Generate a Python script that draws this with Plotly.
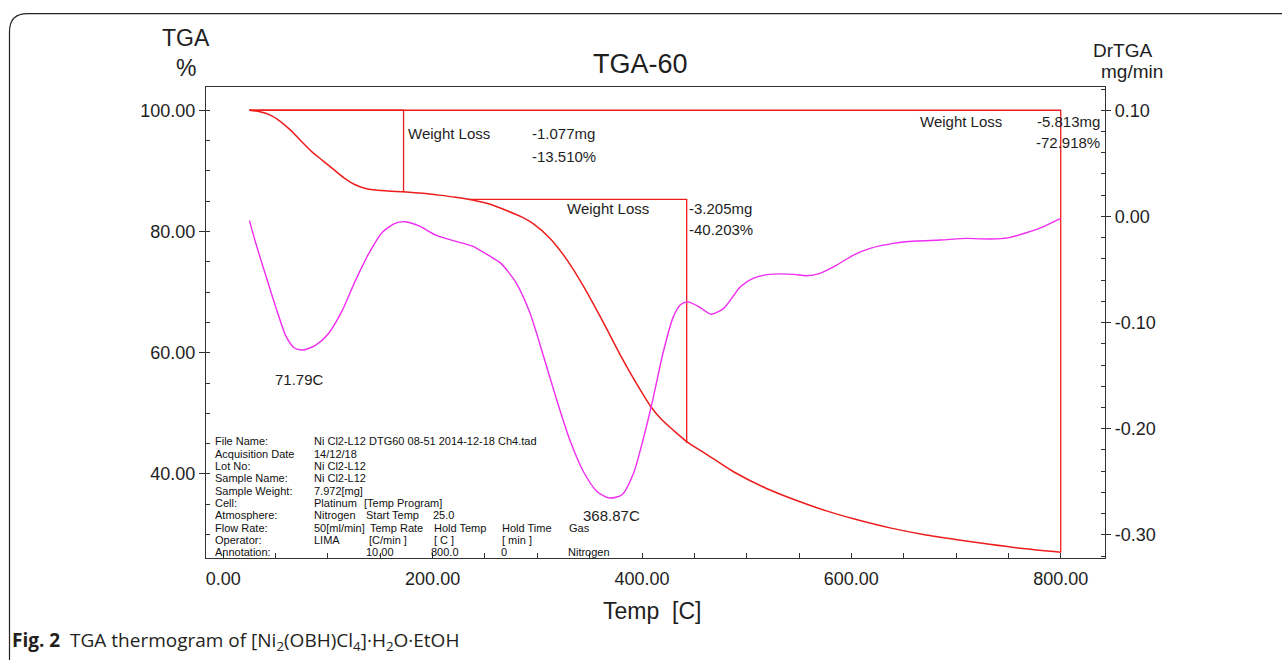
import plotly.graph_objects as go

# ---------------- data ----------------
tga_T = [25, 35, 45, 55, 65, 75, 85, 95, 105, 115, 125, 135, 145, 160, 172, 190, 206, 222,
         238, 255, 270, 285, 296, 312, 328, 344, 360, 370, 380, 390, 400, 408, 418, 430,
         443, 462, 487, 519, 551, 576, 602, 637, 669, 701, 732, 764, 800]
tga_W = [100.0, 99.75, 99.2, 98.1, 96.6, 94.8, 93.1, 91.7, 90.3, 88.9, 87.8, 87.15, 86.85,
         86.65, 86.55, 86.3, 86.0, 85.65, 85.2, 84.5, 83.5, 82.4, 81.3, 78.9, 75.4, 71.0,
         66.0, 62.7, 59.4, 56.3, 53.4, 51.2, 49.1, 47.2, 45.3, 43.2, 40.4, 37.6, 35.4,
         33.9, 32.6, 31.1, 30.0, 29.15, 28.4, 27.7, 27.08]

dtg_T = [25, 31, 41, 50, 60, 68, 76, 88, 100, 113, 126, 139, 152, 164, 174, 187, 203, 222,
         238, 254, 265, 280, 293, 306, 318.5, 331, 344, 357, 369, 381, 392, 401, 411, 420,
         430, 437, 444, 455, 466, 478, 494, 506, 522, 545, 557, 570, 586, 602, 618, 640,
         662, 685, 710, 723, 739, 752, 767, 783, 800]
dtg_D = [-0.0040, -0.0250, -0.0570, -0.0850, -0.1130, -0.1240, -0.1258, -0.1215, -0.1110,
         -0.0900, -0.0610, -0.0350, -0.0150, -0.0065, -0.0050, -0.0090, -0.0176, -0.0235,
         -0.0280, -0.0370, -0.0440, -0.0630, -0.0910, -0.1320, -0.1728, -0.2104, -0.2403,
         -0.2591, -0.2653, -0.2622, -0.2418, -0.2104, -0.1697, -0.1289, -0.0944, -0.0830,
         -0.0805, -0.0855, -0.0922, -0.0866, -0.0662, -0.0583, -0.0546, -0.0546, -0.0559,
         -0.0536, -0.0458, -0.0364, -0.0301, -0.0254, -0.0232, -0.0223, -0.0207, -0.0212,
         -0.0212, -0.0198, -0.0154, -0.0098, -0.0019]

# weight-loss analysis steps
step_T_start = [25.0, 234.0, 25.0]
step_T_end = [172.2, 442.7, 800.0]
step_W_start = [100.0, 85.29, 100.0]
loss_pct = [13.510, 40.203, 72.918]
loss_mg = [1.077, 3.205, 5.813]

# peak labels
peak_T = [71.79, 368.87]

# axis ticks
x_ticks = [0, 200, 400, 600, 800]
y_ticks = [40, 60, 80, 100]
y2_ticks = [-0.30, -0.20, -0.10, 0.00, 0.10]

# sample information table
info_labels = ["File Name:", "Acquisition Date", "Lot No:", "Sample Name:", "Sample Weight:",
               "Cell:", "Atmosphere:", "Flow Rate:", "Operator:", "Annotation:"]
info_values = ["Ni Cl2-L12 DTG60 08-51 2014-12-18 Ch4.tad", "14/12/18", "Ni Cl2-L12",
               "Ni Cl2-L12", "7.972[mg]", "Platinum", "Nitrogen", "50[ml/min]", "LIMA", ""]
prog_row5 = ["[Temp Program]"]
prog_row6 = ["Start Temp", "25.0"]
prog_row7 = ["Temp Rate", "Hold Temp", "Hold Time", "Gas"]
prog_row8 = ["[C/min ]", "[ C ]", "[ min ]"]
prog_row9 = ["10.00", "800.0", "0", "Nitrogen"]

# ---------------- layout geometry ----------------
L, R, T, B = 206.0, 1105.0, 86.7, 558.5
PW, PH = R - L, B - T


def px(x):
    return (x - L) / PW


def py(y):
    return (B - y) / PH


RED = "#ee1c1c"
MAG = "#f02cf0"
TXT = "#1e1e1e"
AX = "#333333"
FONT = "Liberation Sans"


def fmt(v):
    return f"{v:.2f}".replace("\u2212", "-")


fig = go.Figure()

fig.add_trace(go.Scatter(x=tga_T, y=tga_W, mode="lines", yaxis="y",
                         line=dict(color=RED, width=1.5, shape="spline", smoothing=0.7),
                         showlegend=False, hoverinfo="skip"))
fig.add_trace(go.Scatter(x=dtg_T, y=dtg_D, mode="lines", yaxis="y2",
                         line=dict(color=MAG, width=1.4, shape="spline", smoothing=0.7),
                         showlegend=False, hoverinfo="skip"))

for ts, te, ws, lp in zip(step_T_start, step_T_end, step_W_start, loss_pct):
    fig.add_trace(go.Scatter(x=[ts, te, te], y=[ws, ws, ws - lp], mode="lines", yaxis="y",
                             line=dict(color=RED, width=1.3), showlegend=False,
                             hoverinfo="skip"))

ann = []
# weight loss labels (positions in data units)
wl_pos = [
    dict(lbl=(174.5, 96.21), mg=(293.0, 96.21, "left"), pc=(293.0, 92.42, "left")),
    dict(lbl=(326.4, 83.86), mg=(443.0, 83.86, "left"), pc=(443.0, 80.40, "left")),
    dict(lbl=(663.6, 98.19), mg=(839.4, 98.19, "right"), pc=(839.4, 94.73, "right")),
]
for p, mg, pc in zip(wl_pos, loss_mg, loss_pct):
    f = dict(family=FONT, size=15, color=TXT)
    ann.append(dict(x=p["lbl"][0], y=p["lbl"][1], xref="x", yref="y", text="Weight Loss",
                    showarrow=False, xanchor="left", yanchor="middle", font=f))
    ann.append(dict(x=p["mg"][0], y=p["mg"][1], xref="x", yref="y", text=f"-{mg:.3f}mg",
                    showarrow=False, xanchor=p["mg"][2], yanchor="middle", font=f))
    ann.append(dict(x=p["pc"][0], y=p["pc"][1], xref="x", yref="y", text=f"-{pc:.3f}%",
                    showarrow=False, xanchor=p["pc"][2], yanchor="middle", font=f))

peak_pos = [(73.2, -0.154), (371.3, -0.282)]
for (xx, yy), pt in zip(peak_pos, peak_T):
    ann.append(dict(x=xx, y=yy, xref="x", yref="y2", text=f"{pt:.2f}C", showarrow=False,
                    xanchor="center", yanchor="middle",
                    font=dict(family=FONT, size=15, color=TXT)))

# info table
row_y0, row_dy = 441.7, 12.33
tf = dict(family=FONT, size=11, color="#111111")


def tadd(x, row, text):
    ann.append(dict(x=px(x), y=py(row_y0 + row * row_dy), xref="paper", yref="paper",
                    text=text, showarrow=False, xanchor="left", yanchor="middle", font=tf))


for i, (lab, val) in enumerate(zip(info_labels, info_values)):
    tadd(213, i, lab)
    if val:
        tadd(312, i, val)
for xx, t in zip([362], prog_row5):
    tadd(xx, 5, t)
for xx, t in zip([364, 431], prog_row6):
    tadd(xx, 6, t)
for xx, t in zip([368, 432, 500, 567], prog_row7):
    tadd(xx, 7, t)
for xx, t in zip([367, 432, 500], prog_row8):
    tadd(xx, 8, t)
for xx, t in zip([364, 429, 499, 566], prog_row9):
    tadd(xx, 9, t)


# titles
def padd(x, y, text, size, xanchor="center", family=FONT, color=TXT):
    ann.append(dict(x=px(x), y=py(y), xref="paper", yref="paper", text=text,
                    showarrow=False, xanchor=xanchor, yanchor="middle",
                    font=dict(family=family, size=size, color=color)))


padd(640, 64, "TGA-60", 27)
padd(186, 38, "TGA", 23)
padd(186, 68, "%", 23)
padd(1122, 50, "DrTGA", 19)
padd(1132, 71, "mg/min", 19)
padd(652, 612, "Temp\u00a0\u00a0[C]", 23)
padd(10, 642, "<b>Fig. 2</b>\u00a0\u00a0TGA thermogram of [Ni<sub>2</sub>(OBH)Cl<sub>4</sub>]·H<sub>2</sub>O·EtOH",
     19, xanchor="left", family="Open Sans", color="#231f20")

# outer rounded border
bx, byt, rad = 9.5, 13.3, 18.0
path = (f"M {px(bx)},{py(670)} L {px(bx)},{py(byt + rad)} "
        f"Q {px(bx)},{py(byt)} {px(bx + rad)},{py(byt)} L {px(1290)},{py(byt)}")
shapes = [dict(type="path", xref="paper", yref="paper", path=path,
               line=dict(color="#222222", width=1.2))]

tick_font = dict(family=FONT, size=18, color=TXT)
fig.update_layout(
    width=1282, height=660, autosize=False,
    margin=dict(l=L, r=1282 - R, t=T, b=660 - B, pad=0),
    paper_bgcolor="white", plot_bgcolor="white",
    showlegend=False,
    annotations=ann, shapes=shapes,
    xaxis=dict(range=[-16.5, 842.3], tickmode="array", tickvals=x_ticks,
               ticktext=[fmt(v) for v in x_ticks],
               ticks="inside", ticklen=5, tickcolor=AX, tickwidth=1,
               showline=True, linecolor=AX, linewidth=1.2, mirror=True,
               showgrid=False, zeroline=False, tickfont=tick_font,
               ticklabelstandoff=4,
               minor=dict(tick0=0, dtick=50, ticks="inside", ticklen=5, tickcolor=AX,
                          showgrid=False)),
    yaxis=dict(range=[26.13, 103.84], tickmode="array", tickvals=y_ticks,
               ticktext=[fmt(v) for v in y_ticks],
               ticks="outside", ticklen=6, tickcolor=AX, tickwidth=1,
               showline=True, linecolor=AX, linewidth=1.2,
               showgrid=False, zeroline=False, tickfont=tick_font,
               minor=dict(tick0=0, dtick=5, ticks="inside", ticklen=4, tickcolor=AX,
                          showgrid=False)),
    yaxis2=dict(range=[-0.3218, 0.1219], tickmode="array", tickvals=y2_ticks,
                ticktext=[fmt(v) for v in y2_ticks],
                overlaying="y", side="right", anchor="x",
                ticks="outside", ticklen=5, tickcolor=AX, tickwidth=1,
                showline=True, linecolor=AX, linewidth=1.2,
                showgrid=False, zeroline=False, tickfont=tick_font,
                minor=dict(tick0=0, dtick=0.02, ticks="inside", ticklen=4, tickcolor=AX,
                           showgrid=False)),
)

fig.write_html("out.html", include_plotlyjs=True, config={"displayModeBar": False},
               post_script="document.body.style.margin='0px';document.body.style.overflow='hidden';")
